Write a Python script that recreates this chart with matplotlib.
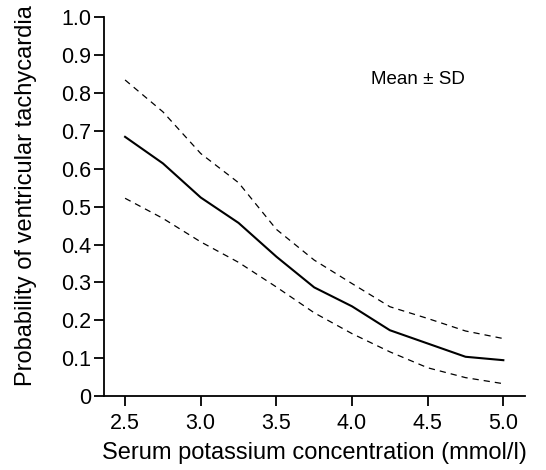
import matplotlib
matplotlib.use("Agg")
import matplotlib.pyplot as plt

potassium = [2.5, 2.75, 3.0, 3.25, 3.5, 3.75, 4.0, 4.25, 4.5, 4.75, 5.0]
mean_prob = [0.684, 0.614, 0.524, 0.457, 0.368, 0.287, 0.237, 0.174, 0.139, 0.104, 0.095]
upper_sd = [0.834, 0.750, 0.640, 0.563, 0.440, 0.359, 0.297, 0.236, 0.205, 0.172, 0.152]
lower_sd = [0.522, 0.469, 0.407, 0.353, 0.288, 0.220, 0.165, 0.117, 0.075, 0.049, 0.033]
xticks = [2.5, 3.0, 3.5, 4.0, 4.5, 5.0]
xticklabels = ["2.5", "3.0", "3.5", "4.0", "4.5", "5.0"]
yticks = [0, 0.1, 0.2, 0.3, 0.4, 0.5, 0.6, 0.7, 0.8, 0.9, 1.0]
yticklabels = ["0", "0.1", "0.2", "0.3", "0.4", "0.5", "0.6", "0.7", "0.8", "0.9", "1.0"]

plt.rcParams['font.family'] = ['Liberation Sans', 'DejaVu Sans']

fig = plt.figure(figsize=(5.46, 4.70), dpi=100)
ax = fig.add_axes([0.19, 0.157, 0.7715, 0.8068])

ax.plot(potassium, mean_prob, color='black', lw=1.5)
ax.plot(potassium, upper_sd, color='black', lw=0.9, dashes=(5, 4))
ax.plot(potassium, lower_sd, color='black', lw=0.9, dashes=(5, 4))

ax.set_xlim(2.359, 5.143)
ax.set_ylim(0, 1.0)
ax.set_xticks(xticks)
ax.set_xticklabels(xticklabels)
ax.set_yticks(yticks)
ax.set_yticklabels(yticklabels)

for s in ['top', 'right']:
    ax.spines[s].set_visible(False)
for s in ['left', 'bottom']:
    ax.spines[s].set_linewidth(1.3)

ax.tick_params(direction='out', length=7, width=1.3, labelsize=15.5)
ax.tick_params(axis='x', pad=5)
ax.tick_params(axis='y', pad=2)
ax.set_xlabel("Serum potassium concentration (mmol/l)", fontsize=17, labelpad=6)
ax.set_ylabel("Probability of ventricular tachycardia", fontsize=17)
ax.yaxis.set_label_coords(-0.158, 0.528)

ax.text(4.437, 0.834, "Mean \u00b1 SD", fontsize=13.5, ha='center', va='center')

fig.savefig("out.png", dpi=100)
